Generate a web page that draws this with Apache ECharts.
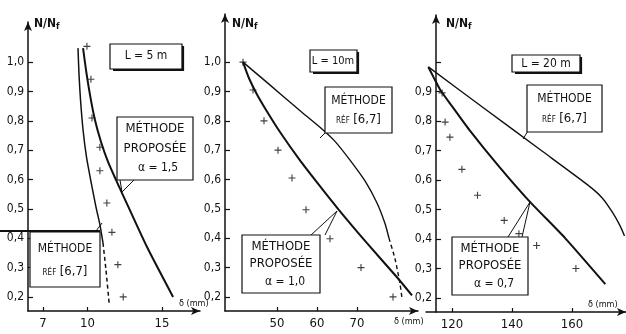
<!DOCTYPE html>
<html>
<head>
<meta charset="utf-8">
<script src="https://cdn.jsdelivr.net/npm/echarts@6/dist/echarts.min.js"></script>
<style>
html,body{margin:0;padding:0;background:#fff}
#main{width:626px;height:334px}
</style>
</head>
<body>
<div id="main"></div>
<script>
// L = 5 m
var ref5 = [[9.36,1.048],[9.43,0.956],[9.53,0.871],[9.70,0.769],[9.93,0.677],[10.24,0.591],[10.57,0.506],[10.84,0.445],[11.04,0.384]];
var ref5Dash = [[11.04,0.384],[11.24,0.292],[11.45,0.18]];
var prop5 = [[9.70,1.048],[9.90,0.973],[10.17,0.888],[10.50,0.803],[10.91,0.728],[11.38,0.660],[11.92,0.598],[12.32,0.554],[14.0,0.37],[15.75,0.2]];
var pts5 = [[9.96,1.054],[10.23,0.942],[10.3,0.81],[10.83,0.71],[10.83,0.63],[11.3,0.52],[11.64,0.42],[12.04,0.31],[12.4,0.2]];

// L = 10 m
var ref10 = [[41.5,1.0],[46,0.948],[51,0.89],[56,0.832],[60.75,0.778],[64.5,0.73],[68.25,0.666],[72,0.595],[75,0.52],[77,0.45],[78,0.40]];
var ref10Dash = [[78,0.40],[79.5,0.33],[80.75,0.245],[81.2,0.2]];
var prop10 = [[41.5,1.0],[43,0.945],[45,0.89],[47.5,0.832],[50.75,0.762],[55.75,0.665],[60,0.59],[65.25,0.5],[72.5,0.383],[80,0.267],[83.75,0.205]];
var pts10 = [[41.5,1.0],[44,0.905],[46.75,0.8],[50.25,0.70],[53.75,0.605],[57.25,0.497],[63.25,0.398],[71,0.3],[79,0.2]];

// L = 20 m
var ref20 = [[112.1,0.983],[130,0.848],[150,0.698],[165,0.585],[170,0.54],[173.5,0.49],[176,0.445],[177.5,0.41]];
var prop20 = [[112.1,0.983],[114,0.945],[116.1,0.905],[120,0.85],[125.9,0.768],[135.7,0.645],[145.6,0.53],[157.7,0.403],[171.1,0.247]];
var pts20 = [[116.7,0.895],[117.7,0.796],[119.3,0.745],[123.3,0.636],[128.5,0.548],[137.4,0.463],[142.3,0.418],[148.2,0.378],[161.3,0.30]];

var yLabels = [0.2,0.3,0.4,0.5,0.6,0.7,0.8,0.9,1.0];
var yLabels20 = [0.2,0.3,0.4,0.5,0.6,0.7,0.8,0.9];
var xLabels5 = [7,10,15];
var xLabels10 = [50,60,70];
var xLabels20 = [120,140,160];

var FONT = '"DejaVu Sans Condensed", "DejaVu Sans", sans-serif';
var INK = '#111';
var plus = 'path://M4.2,0H5.8V4.2H10V5.8H5.8V10H4.2V5.8H0V4.2H4.2Z';

function comma(v){ return String(v.toFixed(1)).replace('.', ','); }

function xAx(idx, min, max, labels){
    return {
        type: 'value', gridIndex: idx, min: min, max: max,
        axisLine: {lineStyle: {color: INK, width: 1.5}, symbol: ['none','arrow'], symbolSize: [6,9]},
        axisTick: {inside: true, length: 4, lineStyle: {color: INK, width: 1.2}, customValues: labels},
        axisLabel: {customValues: labels, color: INK, fontFamily: FONT, fontSize: 13, margin: 6},
        splitLine: {show: false}
    };
}
function yAx(idx, min, max, labels, ticks, off){
    return {
        type: 'value', gridIndex: idx, min: min, max: max, offset: off || 0,
        axisLine: {lineStyle: {color: INK, width: 1.5}, symbol: ['none','arrow'], symbolSize: [6,9]},
        axisTick: {inside: true, length: 5, lineStyle: {color: INK, width: 1.2}, customValues: ticks},
        axisLabel: {customValues: labels, color: INK, fontFamily: FONT, fontSize: 12, margin: 4, formatter: comma},
        splitLine: {show: false}
    };
}
function line(idx, data, w, dashed){
    return {
        type: 'line', xAxisIndex: idx, yAxisIndex: idx, data: data, smooth: 0.2,
        showSymbol: false, silent: true,
        lineStyle: {color: INK, width: w, type: dashed ? [4,3] : 'solid'}
    };
}
function points(idx, data){
    return {
        type: 'scatter', xAxisIndex: idx, yAxisIndex: idx, data: data,
        symbol: plus, symbolSize: 7, itemStyle: {color: INK}, silent: true
    };
}

// annotation helpers
function box(x, y, w, h, heavy){
    var g = [{type: 'rect', z: 20, shape: {x: x, y: y, width: w, height: h}, style: {fill: '#fff', stroke: INK, lineWidth: 1.2}}];
    if (heavy) {
        g.push({type: 'polyline', z: 21, shape: {points: [[x+w+1, y+2],[x+w+1, y+h+1],[x+3, y+h+1]]}, style: {stroke: INK, lineWidth: 2.2, fill: null}});
    }
    return g;
}
function txt(x, y, s, size, rich){
    return {type: 'text', z: 22, style: {x: x, y: y, text: s, fill: INK, font: size + 'px ' + FONT, textAlign: 'center', textVerticalAlign: 'middle', rich: rich}};
}
function seg(pts, w){
    return {type: 'polyline', z: 19, shape: {points: pts}, style: {stroke: INK, lineWidth: w || 1, fill: null}};
}
var refRich = {s: {fontSize: 8, fontFamily: FONT, fill: INK, padding: [2,0,0,0]}, b: {fontSize: 13, fontFamily: FONT, fill: INK}};
function refBox(x, y, w, h){
    return box(x, y, w, h).concat([
        txt(x + w/2, y + h*0.3, 'MÉTHODE', 12),
        txt(x + w/2, y + h*0.72, '{s|RÉF} {b|[6,7]}', 12, refRich)
    ]);
}
function propBox(x, y, w, h, a){
    return box(x, y, w, h).concat([
        txt(x + w/2, y + h*0.2, 'MÉTHODE', 13),
        txt(x + w/2, y + h*0.5, 'PROPOSÉE', 13),
        txt(x + w/2 + 4, y + h*0.8, 'α = ' + a, 12)
    ]);
}
function nnf(x, y){
    return {type: 'text', z: 22, style: {x: x, y: y, text: '{a|N/N}{b|f}', font: '12px ' + FONT, rich: {a: {fontSize: 12, fontWeight: 'bold', fontFamily: FONT, fill: INK}, b: {fontSize: 9, fontWeight: 'bold', fontFamily: FONT, fill: INK, padding: [6,0,0,0]}}}};
}
function delta(x, y){
    return {type: 'text', z: 22, style: {x: x, y: y, text: 'δ (mm)', fill: INK, font: '9px ' + FONT}};
}

var graphics = [].concat(
    // panel 1
    [nnf(34, 16)],
    box(110, 44, 72, 25, true), [txt(146, 56, 'L = 5 m', 12)],
    box(117, 117, 76, 63), [txt(155, 129, 'MÉTHODE', 13), txt(155, 149, 'PROPOSÉE', 13), txt(158, 168, 'α = 1,5', 12)],
    [seg([[120, 180],[122, 192],[134, 180]])],
    [seg([[0, 231],[100, 231]], 2)],
    refBox(30, 232, 70, 55),
    [seg([[96, 231],[102, 223]])],
    [delta(179, 299)],
    // panel 2
    [nnf(232, 16)],
    box(310, 50, 47, 22, true), [txt(333, 61, 'L = 10m', 11)],
    refBox(325, 87, 67, 46),
    [seg([[325, 133],[320, 138]])],
    propBox(242, 235, 78, 58, '1,0'),
    [seg([[311, 235],[337, 211],[325, 235]])],
    [delta(394, 317)],
    // panel 3
    [nnf(446, 16)],
    box(512, 55, 68, 17, true), [txt(546, 64, 'L = 20 m', 12)],
    refBox(527, 85, 75, 47),
    [seg([[528, 131],[523, 139]])],
    propBox(452, 237, 76, 58, '0,7'),
    [seg([[508, 237],[530, 202],[522, 237]])],
    [delta(588, 300)]
);

var chart = echarts.init(document.getElementById('main'));
chart.setOption({
    backgroundColor: '#fff',
    animation: false,
    grid: [
        {left: 28, top: 22, width: 172, height: 289},
        {left: 225, top: 14, width: 193, height: 297},
        {left: 426, top: 15, width: 200, height: 297}
    ],
    xAxis: [
        xAx(0, 6, 17.56, xLabels5),
        xAx(1, 37, 85.25, xLabels10),
        xAx(2, 111.33, 178, xLabels20)
    ],
    yAxis: [
        yAx(0, 0.152, 1.137, yLabels, yLabels),
        yAx(1, 0.152, 1.164, yLabels, yLabels),
        yAx(2, 0.1525, 1.159, yLabels20, yLabels, -10)
    ],
    series: [
        line(0, ref5, 1.5), line(0, ref5Dash, 1.5, true), line(0, prop5, 2), points(0, pts5),
        line(1, ref10, 1.4), line(1, ref10Dash, 1.4, true), line(1, prop10, 2), points(1, pts10),
        line(2, ref20, 1.4), line(2, prop20, 2), points(2, pts20)
    ],
    graphic: graphics
});
</script>
</body>
</html>
